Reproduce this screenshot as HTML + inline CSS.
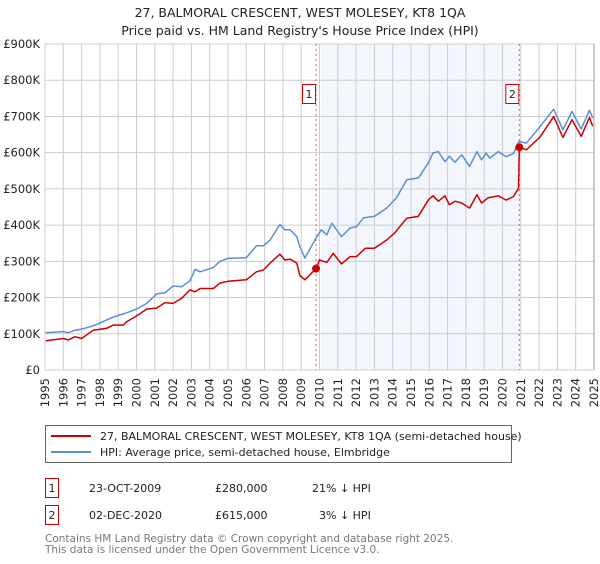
<!DOCTYPE html>
<html><head><meta charset="utf-8"><style>
body{margin:0;background:#fff;font-family:"DejaVu Sans","Liberation Sans",sans-serif;}
svg text{font-family:"DejaVu Sans","Liberation Sans",sans-serif;}
</style></head><body>
<svg id="chart" width="600" height="560" viewBox="0 0 600 560" xmlns="http://www.w3.org/2000/svg">
<text x="300" y="17" text-anchor="middle" font-size="12.5" fill="#222">27, BALMORAL CRESCENT, WEST MOLESEY, KT8 1QA</text>
<text x="300" y="35" text-anchor="middle" font-size="12.5" fill="#222">Price paid vs. HM Land Registry's House Price Index (HPI)</text>
<g id="plot"></g>
<rect x="45.5" y="425.5" width="466" height="37" fill="#fff" stroke="#666"/>
<line x1="51" y1="436" x2="91" y2="436" stroke="#cc0000" stroke-width="2"/>
<text x="100" y="440" font-size="11" fill="#222">27, BALMORAL CRESCENT, WEST MOLESEY, KT8 1QA (semi-detached house)</text>
<line x1="51" y1="452" x2="91" y2="452" stroke="#5b8fd4" stroke-width="2"/>
<text x="100" y="456" font-size="11" fill="#222">HPI: Average price, semi-detached house, Elmbridge</text>
<g font-size="11" fill="#222">
<rect x="45.5" y="478.5" width="13" height="19" fill="#fff" stroke="#cc0000"/>
<text x="52" y="492" text-anchor="middle">1</text>
<text x="89" y="492">23-OCT-2009</text>
<text x="215" y="492">£280,000</text>
<text x="312" y="492">21% ↓ HPI</text>
</g>
<g font-size="11" fill="#222">
<rect x="45.5" y="505.5" width="13" height="19" fill="#fff" stroke="#cc0000"/>
<text x="52" y="519" text-anchor="middle">2</text>
<text x="89" y="519">02-DEC-2020</text>
<text x="215" y="519">£615,000</text>
<text x="319" y="519">3% ↓ HPI</text>
</g>
<text x="45" y="542" font-size="10.5" fill="#777">Contains HM Land Registry data © Crown copyright and database right 2025.</text>
<text x="45" y="553" font-size="10.5" fill="#777">This data is licensed under the Open Government Licence v3.0.</text>
</svg>
<script>
const hpiYears=[1995.04,1996.0,1996.27,1996.64,1997.0,1997.64,1998.37,1998.73,1999.28,1999.46,2000.0,2000.56,2001.1,2001.56,2002.0,2002.47,2002.92,2003.2,2003.47,2004.2,2004.56,2005.0,2006.0,2006.56,2006.93,2007.3,2007.84,2008.1,2008.4,2008.76,2008.93,2009.2,2009.75,2010.1,2010.4,2010.67,2011.2,2011.67,2012.03,2012.4,2013.0,2013.67,2014.2,2014.77,2015.4,2015.95,2016.2,2016.5,2016.86,2017.1,2017.4,2017.77,2018.2,2018.6,2018.86,2019.1,2019.3,2019.77,2020.2,2020.6,2020.9,2021.3,2022.05,2022.8,2023.3,2023.8,2024.3,2024.75,2024.93];
const hpiValues=[103,106,103,110,113,122,138,146,155,158,168,184,210,213,232,230,246,278,271,283,300,308,310,343,343,359,402,387,387,368,340,309,359,387,373,405,368,392,396,420,424,447,475,525,530,572,599,603,575,590,573,594,562,603,580,599,585,603,589,598,631,626,672,720,663,714,665,717,696];
const priceYears=[1995.04,1996.0,1996.27,1996.64,1997.0,1997.64,1998.37,1998.73,1999.28,1999.46,2000.0,2000.56,2001.1,2001.56,2002.0,2002.47,2002.92,2003.2,2003.47,2004.2,2004.56,2005.0,2006.0,2006.56,2006.93,2007.3,2007.84,2008.1,2008.4,2008.76,2008.93,2009.2,2009.81,2010.0,2010.4,2010.75,2011.2,2011.67,2012.03,2012.5,2013.0,2013.67,2014.1,2014.77,2015.4,2015.95,2016.2,2016.5,2016.86,2017.1,2017.4,2017.77,2018.2,2018.6,2018.86,2019.2,2019.77,2020.2,2020.6,2020.88,2020.92,2021.3,2022.05,2022.8,2023.3,2023.8,2024.3,2024.75,2024.93];
const priceValues=[81,87,83,92,87,110,115,124,124,133,149,168,171,186,184,198,221,216,225,225,240,245,249,271,276,295,320,304,306,295,261,249,280,304,297,322,293,313,313,336,336,359,378,419,424,470,481,466,481,456,466,461,447,484,461,475,481,469,479,502,615,608,643,700,642,691,645,697,673];
const saleYears=[2009.81,2020.92];
const saleValues=[280,615];
const saleLabels=["1","2"];
const yTicks=[0,100,200,300,400,500,600,700,800,900];
const yTickLabels=["£0","£100K","£200K","£300K","£400K","£500K","£600K","£700K","£800K","£900K"];
const xTicks=[1995,1996,1997,1998,1999,2000,2001,2002,2003,2004,2005,2006,2007,2008,2009,2010,2011,2012,2013,2014,2015,2016,2017,2018,2019,2020,2021,2022,2023,2024,2025];

const X0=45,X1=594,Y0=370,Y1=44;
const xs=y=>X0+(y-1995)/30*(X1-X0);
const ys=v=>Y0-v/900*(Y0-Y1);
const NS="http://www.w3.org/2000/svg";
const g=document.getElementById('plot');
function mk(t,a){const e=document.createElementNS(NS,t);for(const k in a)e.setAttribute(k,a[k]);g.appendChild(e);return e;}

let shade=mk('rect',{x:xs(saleYears[0])+5,y:Y1,width:xs(saleYears[1])-xs(saleYears[0])-5,height:Y0-Y1,fill:'#f3f7fd'});



xTicks.forEach(t=>{
  const l=mk('line',{x1:xs(t),x2:xs(t),y1:Y1,y2:Y0,stroke:'#cccccc','stroke-width':1});
  
  
  const tx=mk('text',{x:0,y:0,'font-size':11.5,fill:'#222','text-anchor':'end',transform:`translate(${xs(t)+4},${Y0+8}) rotate(-90)`});
  tx.textContent=t;
  
  
});
yTicks.forEach((t,i)=>{
  const l=mk('line',{x1:X0,x2:X1,y1:ys(t),y2:ys(t),stroke:'#cccccc','stroke-width':1});
  
  
  const tx=mk('text',{x:40,y:ys(t)+4,'font-size':11.5,fill:'#222','text-anchor':'end'});
  tx.textContent=yTickLabels[i];
  
  
});
const rb=mk('line',{x1:X1,x2:X1,y1:Y1,y2:Y0,stroke:'#999','stroke-width':1});



saleYears.forEach((s,i)=>{
  const l=mk('line',{x1:xs(s),x2:xs(s),y1:Y1,y2:Y0,stroke:'#e06060','stroke-width':1,'stroke-dasharray':'2,3'});
  
  
});

function path(xa,va,color,name){
  const d=xa.map((x,i)=>(i?'L':'M')+xs(x).toFixed(1)+','+ys(va[i]).toFixed(1)).join('');
  const p=mk('path',{d:d,fill:'none',stroke:color,'stroke-width':1.5,'stroke-linejoin':'round'});
  
  
}
path(hpiYears,hpiValues,'#5b8fd4','hpi-line');
path(priceYears,priceValues,'#cc0000','price-paid-line');

saleYears.forEach((s,i)=>{
  const c=mk('circle',{cx:xs(s),cy:ys(saleValues[i]),r:4,fill:'#cc0000'});
  
  
  const bx=xs(s)-3;
  const r=mk('rect',{x:bx-10.5,y:84.5,width:13,height:19,fill:'#fff',stroke:'#cc0000'});
  
  
  const t=mk('text',{x:bx-4,y:98,'font-size':11,fill:'#222','text-anchor':'middle'});
  t.textContent=saleLabels[i];
  
  
});
</script>
</body></html>
